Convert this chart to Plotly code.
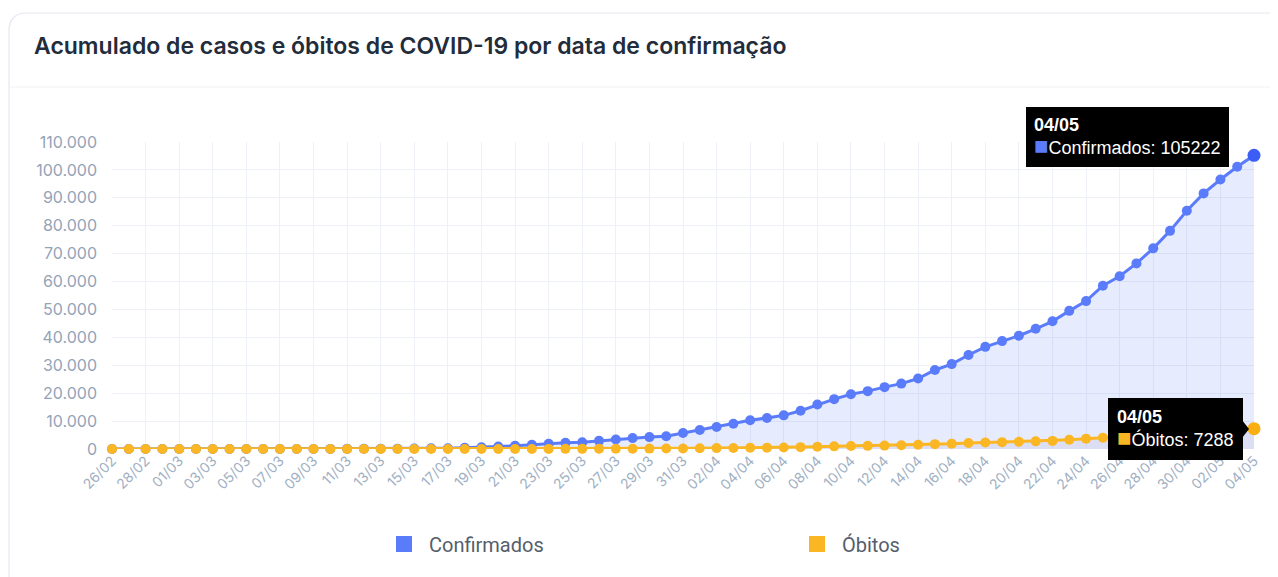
import plotly.graph_objects as go

dates = ["26/02","27/02","28/02","29/02",
 "01/03","02/03","03/03","04/03","05/03","06/03","07/03","08/03","09/03","10/03",
 "11/03","12/03","13/03","14/03","15/03","16/03","17/03","18/03","19/03","20/03",
 "21/03","22/03","23/03","24/03","25/03","26/03","27/03","28/03","29/03","30/03","31/03",
 "01/04","02/04","03/04","04/04","05/04","06/04","07/04","08/04","09/04","10/04",
 "11/04","12/04","13/04","14/04","15/04","16/04","17/04","18/04","19/04","20/04",
 "21/04","22/04","23/04","24/04","25/04","26/04","27/04","28/04","29/04","30/04",
 "01/05","02/05","03/05","04/05"]

confirmados = [1,1,1,2,
 2,2,2,3,8,13,19,25,25,34,52,77,98,121,200,234,291,428,621,904,1128,1546,1891,2201,2433,2915,3417,3904,4256,4579,5717,
 6836,7910,9056,10278,11130,12056,13717,15927,17857,19638,20727,22169,23430,25262,28320,30425,33682,36599,38654,40581,
 43079,45757,49492,52995,58509,61888,66501,71886,78162,85380,
 91589,96559,101147,105222]

obitos = [0,0,0,0,
 0,0,0,0,0,0,0,0,0,0,0,0,0,0,0,0,1,4,7,11,18,25,34,46,59,77,92,111,136,159,201,
 240,324,359,445,486,553,667,800,941,1056,1124,1223,1328,1532,1736,1924,2141,2347,2462,2575,
 2741,2906,3331,3704,4057,4271,4543,5017,5466,5901,
 6329,6750,7025,7288]

tick_labels = dates[::2]
y_ticks = list(range(0, 110001, 10000))

BLUE = "#5b7cfa"
YELLOW = "#fbb624"

# page has an 8px body margin; figure fills the rest of the window
OFF = 8
W, H = 1278 - OFF, 577 - OFF
PLOT_LEFT, PLOT_RIGHT, PLOT_TOP, PLOT_BOTTOM = 112, 1254, 142, 449  # screen px
L, R = PLOT_LEFT - OFF, 1278 - PLOT_RIGHT
T, B = PLOT_TOP - OFF, 577 - PLOT_BOTTOM
PW, PH = PLOT_RIGHT - PLOT_LEFT, PLOT_BOTTOM - PLOT_TOP

def px(x):
    return (x - PLOT_LEFT) / PW

def py(y):
    return (PLOT_BOTTOM - y) / PH

fig = go.Figure()

fig.add_trace(go.Scatter(
    x=dates, y=obitos, mode="lines", name="Óbitos",
    line=dict(color=YELLOW, width=0),
    fill="tozeroy", fillcolor="rgba(200,190,200,0.22)",
    cliponaxis=False, showlegend=False, hoverinfo="skip"))

fig.add_trace(go.Scatter(
    x=dates, y=confirmados, mode="lines+markers", name="Confirmados",
    line=dict(color=BLUE, width=3), marker=dict(color=BLUE, size=10),
    fill="tozeroy", fillcolor="rgba(91,124,250,0.15)",
    cliponaxis=False, showlegend=False, hoverinfo="skip"))

fig.add_trace(go.Scatter(
    x=dates, y=obitos, mode="lines+markers", name="Óbitos",
    line=dict(color=YELLOW, width=3), marker=dict(color=YELLOW, size=10),
    cliponaxis=False, showlegend=False, hoverinfo="skip"))

# legend entries
fig.add_trace(go.Scatter(x=[None], y=[None], mode="markers", name="\u00a0Confirmados",
    marker=dict(symbol="square", size=19, color=BLUE)))
fig.add_trace(go.Scatter(x=[None], y=[None], mode="markers", name="\u00a0Óbitos",
    marker=dict(symbol="square", size=19, color=YELLOW)))

# highlighted last points
fig.add_trace(go.Scatter(x=[dates[-1]], y=[confirmados[-1]], mode="markers",
    marker=dict(color="#3d5ef5", size=13), cliponaxis=False, showlegend=False, hoverinfo="skip"))
fig.add_trace(go.Scatter(x=[dates[-1]], y=[obitos[-1]], mode="markers",
    marker=dict(color="#f9ae12", size=13), cliponaxis=False, showlegend=False, hoverinfo="skip"))

shapes = []
x0, y0, x1, y1, r = 9, 13, 1300, 600, 18
path = (f"M {px(x0)},{py(y0 + r)} Q {px(x0)},{py(y0)} {px(x0 + r)},{py(y0)} "
        f"L {px(x1)},{py(y0)} L {px(x1)},{py(y1)} L {px(x0)},{py(y1)} Z")
shapes.append(dict(type="path", xref="paper", yref="paper", path=path,
                   line=dict(color="#e3e8ef", width=1.2), fillcolor="rgba(0,0,0,0)", layer="below"))
shapes.append(dict(type="line", xref="paper", yref="paper", x0=px(9), x1=px(1300), y0=py(87), y1=py(87),
                   line=dict(color="#edf1f6", width=1.2), layer="below"))
# small pointer of the lower tooltip (screen px converted to paper)
shapes.append(dict(type="path", xref="paper", yref="paper",
                   path=f"M {px(1242)},{py(420)} L {px(1249)},{py(429)} L {px(1242)},{py(438)} Z",
                   line=dict(width=0), fillcolor="black", layer="above"))

tip_font = dict(family="Liberation Sans", size=18, color="white")
annotations = [
    dict(xref="paper", yref="paper", x=px(32), y=py(46), xanchor="left", yanchor="middle",
         text="Acumulado de casos e óbitos de COVID-19 por data de confirmação", showarrow=False,
         font=dict(family="Inter", size=23, color="#222c3b", weight=600)),
    dict(x=dates[-1], y=confirmados[-1], xref="x", yref="y", xanchor="right", yanchor="middle",
         xshift=-25, yshift=18, showarrow=False, align="left",
         text=(f"<b>04/05</b><br><span style='color:{BLUE};font-size:24px'>■</span>"
               f"Confirmados: {confirmados[-1]}"),
         bgcolor="black", bordercolor="black", borderpad=7, font=tip_font),
    dict(x=dates[-1], y=obitos[-1], xref="x", yref="y", xanchor="right", yanchor="middle",
         xshift=-11, yshift=0, showarrow=False, align="left",
         text=(f"<b>04/05</b><br><span style='color:{YELLOW};font-size:24px'>■</span>"
               f"Óbitos: {obitos[-1]}"),
         bgcolor="black", bordercolor="black", borderpad=8, font=tip_font),
]

fig.update_layout(
    width=W, height=H,
    margin=dict(l=L, r=R, t=T, b=B, autoexpand=False),
    paper_bgcolor="white", plot_bgcolor="white",
    separators=",.",
    hovermode=False,
    shapes=shapes, annotations=annotations,
    showlegend=True,
    legend=dict(orientation="h", x=px(384), xanchor="left", y=py(544), yanchor="middle",
                entrywidth=368, entrywidthmode="pixels", bgcolor="rgba(0,0,0,0)",
                font=dict(family="Roboto", size=20, color="#555e6b"), itemclick=False),
    xaxis=dict(type="category", range=[0, len(dates) - 1], tickmode="array",
               tickvals=tick_labels, ticktext=tick_labels, tickangle=-45,
               showgrid=True, gridcolor="#edf1f7", gridwidth=1, zeroline=False,
               showline=False, ticks="",
               tickfont=dict(family="Inter", size=14, color="#9fb0c3")),
    yaxis=dict(range=[0, 110000], tickvals=y_ticks, tickformat=",d",
               showgrid=True, gridcolor="#edf1f7", gridwidth=1, zeroline=False,
               showline=False, ticks="", ticklabelstandoff=14,
               tickfont=dict(family="Inter", size=16, color="#93a3b8")),
)

fig.write_html("out.html")
